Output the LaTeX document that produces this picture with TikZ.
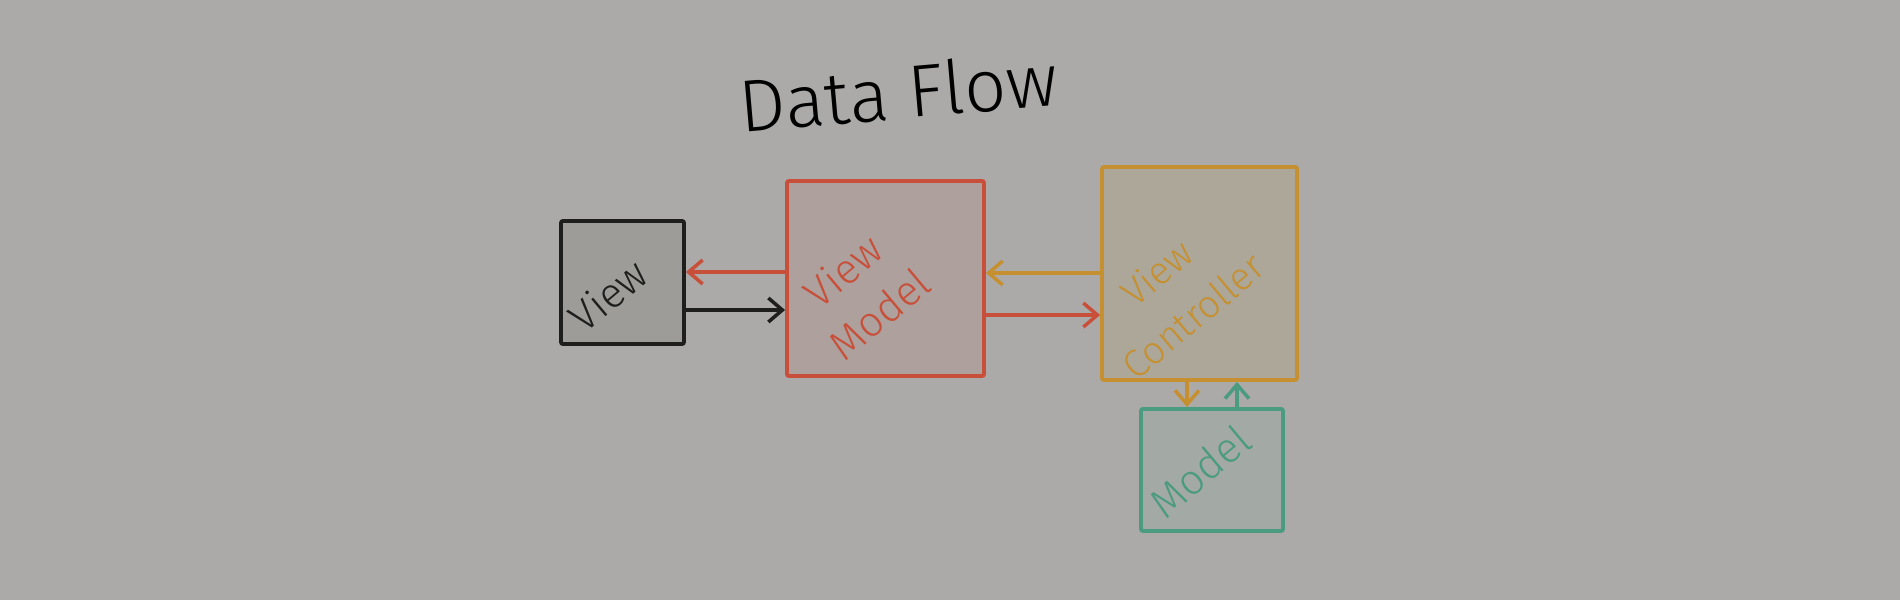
\documentclass[tikz,border=0pt]{standalone}
\usepackage{fontspec}
\setmainfont{Fira Sans}
\newfontfamily\thinfont{Fira Sans Light}
\usetikzlibrary{arrows.meta,calc}
\definecolor{bg}{RGB}{171,170,168}
\definecolor{cview}{RGB}{30,30,28}
\definecolor{fview}{RGB}{157,156,153}
\definecolor{cvm}{RGB}{200,80,58}
\definecolor{fvm}{RGB}{174,160,156}
\definecolor{cvc}{RGB}{198,144,48}
\definecolor{fvc}{RGB}{172,167,152}
\definecolor{cmod}{RGB}{74,155,128}
\definecolor{fmod}{RGB}{163,169,165}
\tikzset{
  box/.style={draw, line width=1.1pt, rounded corners=0.2mm, inner sep=0pt},
  lbl/.style={rotate=40, align=center, font=\thinfont\fontsize{12}{16}\selectfont, inner sep=0pt},
  conn/.style={line width=1.0pt, line cap=round, -{Straight Barb[length=1.4mm, width=2.4mm, line width=1.0pt]}}
}
\begin{document}
\begin{tikzpicture}[x=0.1mm, y=-0.1mm]
\fill[bg] (0,0) rectangle (1900,600);
\useasboundingbox (0,0) rectangle (1900,600);
% title
\node[rotate=5, font=\thinfont\fontsize{21}{23}\selectfont, text=black] (title) at (898,92) {Data Flow};
% boxes
\node[box, draw=cview, fill=fview, minimum width=12.3mm, minimum height=12.3mm] (V) at (622.5,282.5) {};
\node[box, draw=cvm, fill=fvm, minimum width=19.7mm, minimum height=19.5mm] (VM) at (885.5,278.5) {};
\node[box, draw=cvc, fill=fvc, minimum width=19.5mm, minimum height=21.3mm] (VC) at (1199.5,273.5) {};
\node[box, draw=cmod, fill=fmod, minimum width=14.2mm, minimum height=12.2mm] (M) at (1212,470) {};
% labels
\node[lbl, text=cview] (tV) at (608,295) {View};
\node[lbl, text=cvm] (tVM) at (861,292) {View\\Model};
\node[lbl, text=cvc, font=\thinfont\fontsize{11}{16}\selectfont] (tVC) at (1175,294) {View\\Controller};
\node[lbl, text=cmod] (tM) at (1200,471) {Model};
% connectors
\coordinate (a1) at ([yshift=0.65mm]VM.west);
\coordinate (a2) at ([yshift=-2.75mm]V.east);
\coordinate (a3) at ([yshift=0.05mm]VC.west);
\coordinate (a4) at ([yshift=-3.65mm]VM.east);
\coordinate (a5) at ([xshift=-1.25mm]VC.south);
\coordinate (a6) at ([xshift=2.5mm]M.north);
\draw[conn, cvm] (a1) -- (a1 -| V.east);
\draw[conn, cview] (a2) -- (a2 -| VM.west);
\draw[conn, cvc] (a3) -- (a3 -| VM.east);
\draw[conn, cvm] (a4) -- (a4 -| VC.west);
\draw[conn, cvc] (a5) -- (a5 |- M.north);
\draw[conn, cmod] (a6) -- (a6 |- VC.south);
\end{tikzpicture}
\end{document}
